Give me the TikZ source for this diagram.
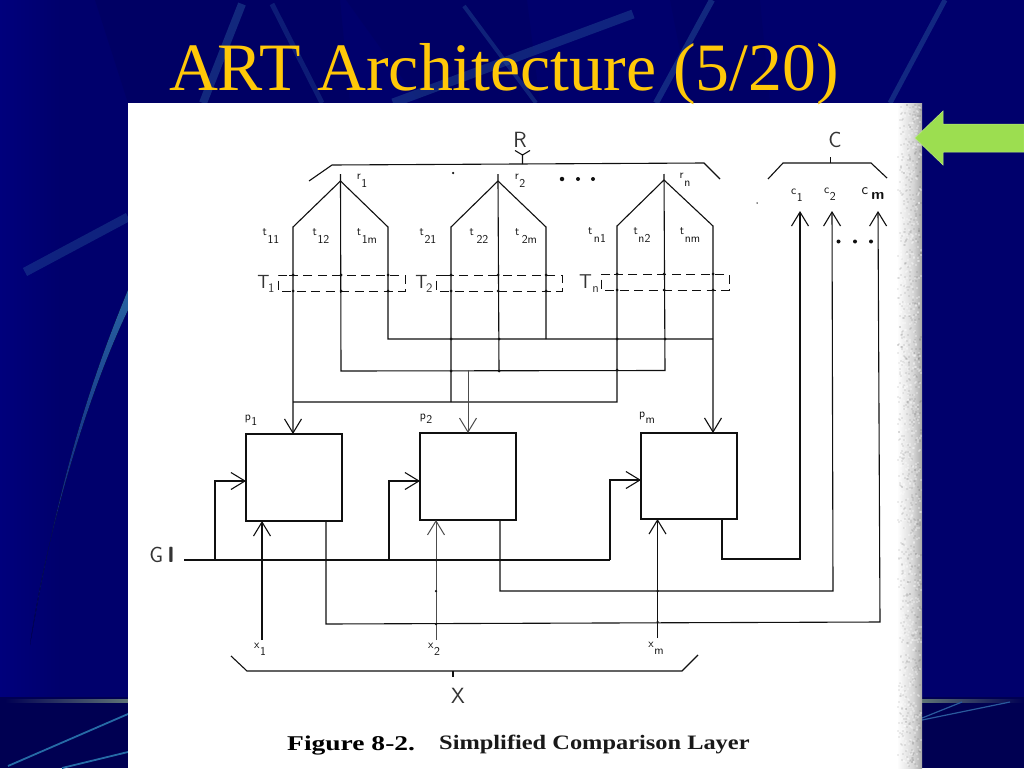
\documentclass[tikz,border=0pt]{standalone}
\usepackage{fontspec}
\usepackage{graphicx}
\setmainfont{Liberation Serif}
\usetikzlibrary{arrows.meta,calc}
\definecolor{navy}{HTML}{00006C}
\definecolor{navyd}{HTML}{000052}
\definecolor{navyl}{HTML}{00007C}
\definecolor{streak}{HTML}{2A5A9C}
\definecolor{horizon}{HTML}{5F7474}
\definecolor{gold}{HTML}{FFC808}
\definecolor{ink}{HTML}{101010}
\definecolor{greenarrow}{HTML}{9CDE50}
\newcommand{\subl}[4]{\fontsize{#3}{#3}\selectfont #1\raisebox{-#4pt}{\kern0.6pt #2}}
\tikzset{
  wire/.style={draw=ink,line width=1.1pt,line join=miter},
  faint/.style={draw=ink!75,line width=.95pt},
  inp/.style={wire,-{Straight Barb[length=14pt,width=17pt,line width=1.1pt]}},
  dashbox/.style={draw=ink,line width=1pt,dash pattern=on 9pt off 5.5pt},
  pe/.style={draw=ink,line width=1.15pt,fill=white,inner sep=0,outer sep=0,minimum width=96pt,minimum height=87pt},
  small/.style={inner sep=0,text=ink,font=\sffamily\fontsize{12}{12}\selectfont},
  big/.style={inner sep=0,text=ink!85,font=\sffamily\fontsize{22}{22}\selectfont},
  band/.style={line width=#1,draw=streak,opacity=.45,line cap=butt},
  cross/.style={fill=ink,circle,inner sep=0,minimum size=3pt},
  dotn/.style={fill=ink,circle,inner sep=0,minimum size=#1},
}
\begin{document}
\begin{tikzpicture}[x=1pt,y=-1pt]
\useasboundingbox (0,0) rectangle (1024,768);
% slide background
\fill[navy] (0,0) rectangle (1024,768);
\fill[left color=navyl,right color=navy] (0,0) rectangle (60,697);
\fill[navyd,opacity=.3] (95,0) -- (340,0) -- (350,103) -- (128,103) -- cycle;
\fill[navyd,opacity=.25] (346,0) -- (527,0) -- (540,103) -- (420,103) -- cycle;
\fill[navyd,opacity=.2] (670,0) -- (760,0) -- (770,103) -- (690,103) -- cycle;
\fill[navyd] (0,697) rectangle (1024,768);
\draw[band=8pt] (242,4) -- (203,103);
\draw[band=5pt,opacity=.32] (272,4) -- (322,103);
\draw[band=4pt,opacity=.38] (464,6) -- (536,103);
\draw[band=9pt,opacity=.4] (633,14) -- (393,103);
\draw[band=6pt] (712,0) -- (656,103);
\draw[band=5pt] (945,0) -- (890,103);
\draw[band=9pt,opacity=.38] (25,272) -- (128,217);
\fill[top color=streak!95!cyan,bottom color=navy] (128,290) .. controls (95,370) and (60,470) .. (30,645) .. controls (45,540) and (85,400) .. (128,310) -- cycle;
\fill[left color=navyd,right color=horizon] (5,699.5) rectangle (128,702.5);
\fill[left color=horizon,right color=navyd] (922,699.5) rectangle (1024,702.5);
\draw[draw=streak!90!cyan,line width=1.8pt] (8,766) -- (128,714);
\draw[draw=streak!90!cyan,line width=1.8pt] (62,768) -- (128,752);
\draw[draw=streak,line width=1.2pt] (922,718) -- (962,702);
\draw[draw=streak,line width=1.2pt] (922,720) -- (1010,702);
% paper
\fill[white] (128,103) rectangle (922,768);
\fill[left color=white,right color=black!16] (897,103) rectangle (913,768);
\fill[left color=black!16,right color=black!34] (913,103) rectangle (922,768);
\pgfmathsetseed{7}
\foreach \i in {1,...,1400}{
  \pgfmathsetmacro\px{897+23*rnd}
  \pgfmathsetmacro\py{103+663*rnd}
  \pgfmathsetmacro\dk{rnd<.5 ? 1 : 0}
  \ifdim\dk pt>0pt
    \fill[white,opacity=.3] (\px,\py) rectangle +(2,2);
  \else
    \fill[black,opacity=.07] (\px,\py) rectangle +(2,2);
  \fi
}
% title
\node[inner sep=0,anchor=base,text=gold,font=\fontsize{67.8}{68}\selectfont] (title) at (504,90) {ART Architecture (5/20)};
% green arrow
\fill[greenarrow,draw=greenarrow!70!white,line width=.5pt] (915,138) -- (943,111) -- (943,124) -- (1024,124) -- (1024,152) -- (943,152) -- (943,165) -- cycle;
% coordinates
\coordinate (r1) at (340.5,181); \coordinate (l1) at (293,227); \coordinate (rr1) at (388,227);
\coordinate (r2) at (498,181);   \coordinate (l2) at (451,227); \coordinate (rr2) at (546,227);
\coordinate (rn) at (664,180);   \coordinate (ln) at (617,226); \coordinate (rrn) at (713,226);
\coordinate (busA) at (388,339); \coordinate (busB) at (341,371); \coordinate (busC) at (293,402);
\coordinate (gs) at (184,560); \coordinate (ge) at (610,560);
% pe boxes
\node[pe,anchor=north west] (p1) at (246,434) {};
\node[pe,anchor=north west] (p2) at (420,433) {};
\node[pe,anchor=north west,minimum height=86pt] (pm) at (641,433) {};
% R, C, X brackets
\coordinate (Ra) at (309,181); \coordinate (Rb) at (332,165); \coordinate (Rc) at (704,163); \coordinate (Rd) at (720,179);
\draw[wire] (Ra) -- (Rb) -- (Rc) -- (Rd);
\coordinate (Rs) at (522.5,164);
\node[big] (R) at (520,140) {R};
\draw[wire] (Rs) -- (522.5,155) -- (515,150.5) (522.5,155) -- (530,150.5);
\coordinate (Ca) at (768,179); \coordinate (Cb) at (783,163); \coordinate (Cc) at (871,163); \coordinate (Cd) at (887,178);
\draw[wire] (Ca) -- (Cb) -- (Cc) -- (Cd);
\node[big] (C) at (835,140) {C};
\draw[wire] (830.5,163) -- (830.5,157);
\coordinate (Xa) at (231,656); \coordinate (Xb) at (247,671); \coordinate (Xc) at (682,671); \coordinate (Xd) at (698,655);
\draw[wire] (Xa) -- (Xb) -- (Xc) -- (Xd);
\node[big] (X) at (458,696) {X};
\draw[wire] (453,671) -- (453,677);
% triangles and wires
\draw[inp] (r1) -- (l1) -- (l1 |- p1.north);
\draw[wire] (r1) -- (rr1) -- (busA) -- (713,339);
\draw[wire] (340.5,174) -- (r1) -- (busB) -- (665,370.5) -- (664,174);
\draw[wire] (r2) -- (l2) -- (451,402);
\draw[wire] (498,174) -- (r2) -- (499,371);
\draw[wire] (r2) -- (rr2) -- (546,339);
\draw[wire] (rn) -- (ln) -- (617,402) -- (busC);
\draw[inp] (rn) -- (rrn) -- (rrn |- pm.north);
\draw[faint,-{Straight Barb[length=14pt,width=17pt,line width=1pt]}] (468,370) -- (468,433);
% T dashed boxes
\draw[dashbox] (287,275) -- (278,275) -- (278,291) -- (405,291) -- (405,275) -- (287,275);
\draw[dashbox] (445,275) -- (436,275) -- (436,291) -- (562,291) -- (562,275) -- (445,275);
\draw[dashbox] (610,274) -- (601,274) -- (601,290) -- (729,290) -- (729,274) -- (610,274);
\foreach \cx/\cy in {293/275,293/291,341/275,341/291,388/275,388/291,451/275,451/291,498/275,498/291,546/275,546/291,617/274,617/290,664/274,664/290,713/274,713/290,451/339,499/339,617/339,665/339,451/371,499/371,617/370}
  \node[cross] at (\cx,\cy) {};
% G line and feedbacks
\draw[wire] (gs) -- (ge);
\draw[inp] (215,560) -- (215,481) -- (246,481);
\draw[inp] (389,560) -- (389,481) -- (420,481);
\draw[inp] (ge) -- (610,480) -- (641,480);
% x inputs
\draw[inp] (262,640) -- (262,521);
\draw[faint,-{Straight Barb[length=14pt,width=17pt,line width=1pt]}] (436,640) -- (436,520);
\draw[inp] (657.5,638) -- (657.5,519);
% outputs
\draw[inp] (722,519) -- (722,559) -- (800,559) -- (800,211);
\draw[inp] (500,520) -- (500,591) -- (833,591) -- (832,211);
\draw[inp] (326,521) -- (326,624) -- (880,622) -- (878,211);
\foreach \cx/\cy in {262/560,326/560,436/560,500/560,657.5/591,436/591,436/624,657.5/622}
  \node[cross,minimum size=2.5pt] at (\cx,\cy) {};
% dots
\foreach \cx/\s in {562/4.5pt,578/4pt,593/4pt} \node[dotn=\s] at (\cx,179) {};
\node[dotn=2.5pt] at (453,173) {};
\node[dotn=1.5pt] at (757,203) {};
\foreach \cx in {838.5,855,871} \node[dotn=4pt] at (\cx,241.5) {};
% labels
\node[small] (t11) at (271,236) {\subl{t}{11}{12}{8}};
\node[small] (t12) at (321,236) {\subl{t}{12}{12}{8}};
\node[small] (t1m) at (367,236) {\subl{t}{1m}{12}{8}};
\node[small] (t21) at (428,236) {\subl{t}{21}{12}{8}};
\node[small] (t22) at (479,236) {\subl{t}{\kern2pt 22}{12}{8}};
\node[small] (t2m) at (526,236) {\subl{t}{\kern2pt 2m}{12}{8}};
\node[small] (tn1) at (597,235) {\subl{t}{\kern1pt n1}{12}{8}};
\node[small] (tn2) at (642,235) {\subl{t}{n2}{12}{8}};
\node[small] (tnm) at (690,235) {\subl{t}{nm}{12}{8}};
\node[small] (lr1) at (362,181) {\subl{r}{1}{12}{8}};
\node[small] (lr2) at (520,181) {\subl{r}{2}{12}{8}};
\node[small] (lrn) at (685,180) {\subl{r}{n}{12}{8}};
\node[small] (lp1) at (251,420) {\subl{p}{1}{12}{5}};
\node[small] (lp2) at (426,419) {\subl{p}{2}{12}{4}};
\node[small] (lpm) at (647,418) {\subl{p}{m}{12}{6}};
\node[small] (lx1) at (260,649) {\subl{x}{1}{12}{7}};
\node[small] (lx2) at (434,649) {\subl{x}{2}{12}{7}};
\node[small] (lxm) at (656,648) {\subl{x}{m}{12}{7}};
\node[small] (lc1) at (797,195) {\subl{c}{1}{12}{7}};
\node[small] (lc2) at (830,194) {\subl{c}{2}{12}{7}};
\node[small] (lcm) at (873,194) {\subl{c}{\,\bfseries m}{15}{5}};
\node[inner sep=0,text=ink!85,font=\sffamily] (T1) at (266,284) {\subl{T}{\kern-2pt\fontsize{13}{13}\selectfont 1}{19}{4}};
\node[inner sep=0,text=ink!85,font=\sffamily] (T2) at (424,284) {\subl{T}{\kern-2pt\fontsize{13}{13}\selectfont 2}{19}{4}};
\node[inner sep=0,text=ink!85,font=\sffamily] (Tn) at (589,284) {\subl{T}{\fontsize{13}{13}\selectfont n}{20}{4}};
\node[inner sep=0,text=ink!85,font=\sffamily\fontsize{22}{22}\selectfont] (GI) at (162,555) {G\kern4pt{\bfseries I}};
% caption
\node[inner sep=0,anchor=base west,text=black,font=\bfseries\fontsize{21}{21}\selectfont] (cap1) at (287,750) {\scalebox{1.31}[1]{Figure 8-2.}};
\node[inner sep=0,anchor=base west,text=black!90,font=\bfseries\fontsize{20.5}{20.5}\selectfont] (cap2) at (439,749) {\scalebox{1.19}[1]{Simplified Comparison Layer}};
\end{tikzpicture}
\end{document}
